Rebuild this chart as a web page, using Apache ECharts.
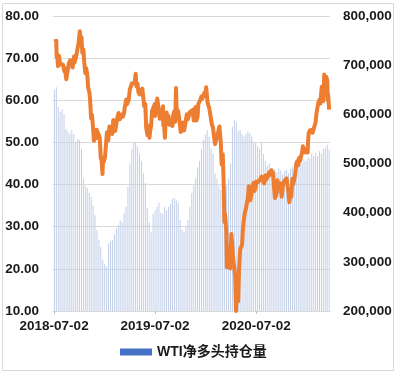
<!DOCTYPE html>
<html><head><meta charset="utf-8">
<script src="https://cdn.jsdelivr.net/npm/echarts@6/dist/echarts.min.js"></script>
<style>html,body{margin:0;padding:0;background:#fff}#c{width:400px;height:376px}</style>
</head><body><div id="c"></div>
<script>
// Weekly dates of the net-long position bars
const weekDates = [
'2018-07-03','2018-07-10','2018-07-17','2018-07-24','2018-07-31','2018-08-07','2018-08-14','2018-08-21','2018-08-28','2018-09-04',
'2018-09-11','2018-09-18','2018-09-25','2018-10-02','2018-10-09','2018-10-16','2018-10-23','2018-10-30','2018-11-06','2018-11-13',
'2018-11-20','2018-11-27','2018-12-04','2018-12-11','2018-12-18','2018-12-25',
'2019-01-01','2019-01-08','2019-01-15','2019-01-22','2019-01-29','2019-02-05','2019-02-12','2019-02-19','2019-02-26','2019-03-05',
'2019-03-12','2019-03-19','2019-03-26','2019-04-02','2019-04-09','2019-04-16','2019-04-23','2019-04-30','2019-05-07','2019-05-14',
'2019-05-21','2019-05-28','2019-06-04','2019-06-11','2019-06-18','2019-06-25','2019-07-02','2019-07-09','2019-07-16','2019-07-23',
'2019-07-30','2019-08-06','2019-08-13','2019-08-20','2019-08-27','2019-09-03','2019-09-10','2019-09-17','2019-09-24','2019-10-01',
'2019-10-08','2019-10-15','2019-10-22','2019-10-29','2019-11-05','2019-11-12','2019-11-19','2019-11-26','2019-12-03','2019-12-10',
'2019-12-17','2019-12-24','2019-12-31',
'2020-01-07','2020-01-14','2020-01-21','2020-01-28','2020-02-04','2020-02-11','2020-02-18','2020-02-25','2020-03-03','2020-03-10',
'2020-03-17','2020-03-24','2020-03-31','2020-04-07','2020-04-14','2020-04-21','2020-04-28','2020-05-05','2020-05-12','2020-05-19',
'2020-05-26','2020-06-02','2020-06-09','2020-06-16','2020-06-23','2020-06-30','2020-07-07','2020-07-14','2020-07-21','2020-07-28',
'2020-08-04','2020-08-11','2020-08-18','2020-08-25','2020-09-01','2020-09-08','2020-09-15','2020-09-22','2020-09-29','2020-10-06',
'2020-10-13','2020-10-20','2020-10-27','2020-11-03','2020-11-10','2020-11-17','2020-11-24','2020-12-01','2020-12-08','2020-12-15',
'2020-12-22','2020-12-29',
'2021-01-05','2021-01-12','2021-01-19','2021-01-26','2021-02-02','2021-02-09','2021-02-16','2021-02-23','2021-03-02','2021-03-09',
'2021-03-16','2021-03-23'
];
// WTI net long positions (contracts), right axis
const netLong = [
650000,655000,615000,605000,610000,600000,570000,565000,560000,568000,
560000,545000,550000,548000,530000,470000,455000,450000,440000,432000,
415000,395000,365000,345000,330000,305000,295000,290000,338000,342000,
344000,355000,368000,375000,385000,380000,400000,412000,452000,500000,
530000,542000,544000,534000,520000,505000,480000,460000,410000,380000,
360000,398000,405000,412000,420000,400000,398000,412000,405000,412000,
418000,428000,430000,425000,420000,385000,365000,360000,372000,385000,
412000,440000,455000,470000,492000,505000,530000,548000,560000,568000,
555000,530000,520000,480000,470000,455000,446000,450000,445000,455000,
470000,500000,575000,588000,585000,565000,568000,560000,555000,560000,
565000,562000,555000,545000,542000,535000,530000,544000,520000,505000,
495000,500000,490000,485000,488000,482000,490000,486000,478000,485000,
488000,480000,490000,492000,488000,500000,505000,510000,500000,508000,
505000,512000,510000,520000,515000,522000,515000,525000,520000,530000,532000,538000,528000
];
// WTI price dates and values, left axis
const priceDates = [
'2018-07-02','2018-07-03','2018-07-06','2018-07-10','2018-07-11','2018-07-13','2018-07-16','2018-07-20','2018-07-24','2018-07-27',
'2018-07-31','2018-08-03','2018-08-08','2018-08-10','2018-08-15','2018-08-17','2018-08-21','2018-08-24','2018-08-29','2018-08-31',
'2018-09-05','2018-09-07','2018-09-12','2018-09-14','2018-09-18','2018-09-21','2018-09-25','2018-09-28','2018-10-03','2018-10-05',
'2018-10-09','2018-10-12','2018-10-16','2018-10-19','2018-10-23','2018-10-26','2018-10-30','2018-11-02','2018-11-07','2018-11-09',
'2018-11-13','2018-11-16','2018-11-20','2018-11-23','2018-11-27','2018-11-30','2018-12-03','2018-12-07','2018-12-11','2018-12-14',
'2018-12-18','2018-12-21','2018-12-24','2018-12-26','2018-12-28',
'2019-01-02','2019-01-04','2019-01-09','2019-01-11','2019-01-14','2019-01-18','2019-01-22','2019-01-25','2019-01-28','2019-02-01',
'2019-02-05','2019-02-08','2019-02-12','2019-02-15','2019-02-20','2019-02-22','2019-02-25','2019-03-01','2019-03-05','2019-03-08',
'2019-03-12','2019-03-15','2019-03-20','2019-03-22','2019-03-25','2019-03-29','2019-04-02','2019-04-05','2019-04-09','2019-04-12',
'2019-04-16','2019-04-19','2019-04-23','2019-04-26','2019-04-30','2019-05-03','2019-05-07','2019-05-10','2019-05-14','2019-05-17',
'2019-05-21','2019-05-24','2019-05-28','2019-05-31','2019-06-05','2019-06-07','2019-06-12','2019-06-14','2019-06-18','2019-06-21',
'2019-06-25','2019-06-28','2019-07-01','2019-07-02','2019-07-05','2019-07-10','2019-07-12','2019-07-16','2019-07-19','2019-07-23',
'2019-07-26','2019-07-31','2019-08-01','2019-08-02','2019-08-07','2019-08-09','2019-08-13','2019-08-16','2019-08-20','2019-08-23',
'2019-08-27','2019-08-30','2019-09-03','2019-09-06','2019-09-10','2019-09-13','2019-09-16','2019-09-18','2019-09-20','2019-09-24',
'2019-09-27','2019-10-01','2019-10-03','2019-10-08','2019-10-11','2019-10-15','2019-10-18','2019-10-22','2019-10-25','2019-10-29',
'2019-11-01','2019-11-05','2019-11-08','2019-11-12','2019-11-15','2019-11-19','2019-11-22','2019-11-26','2019-11-29','2019-12-03',
'2019-12-06','2019-12-10','2019-12-13','2019-12-17','2019-12-20','2019-12-24','2019-12-27','2019-12-31',
'2020-01-03','2020-01-06','2020-01-08','2020-01-10','2020-01-14','2020-01-17','2020-01-21','2020-01-24','2020-01-28','2020-01-31',
'2020-02-04','2020-02-07','2020-02-11','2020-02-14','2020-02-20','2020-02-21','2020-02-25','2020-02-28','2020-03-03','2020-03-06',
'2020-03-09','2020-03-11','2020-03-13','2020-03-16','2020-03-18','2020-03-19','2020-03-20','2020-03-24','2020-03-27','2020-03-30',
'2020-04-01','2020-04-03','2020-04-06','2020-04-09','2020-04-14','2020-04-17','2020-04-20','2020-04-21','2020-04-22','2020-04-24',
'2020-04-28','2020-05-01','2020-05-05','2020-05-08','2020-05-12','2020-05-15','2020-05-19','2020-05-22','2020-05-26','2020-05-29',
'2020-06-02','2020-06-05','2020-06-08','2020-06-11','2020-06-16','2020-06-19','2020-06-23','2020-06-26','2020-06-30','2020-07-02',
'2020-07-07','2020-07-10','2020-07-14','2020-07-17','2020-07-22','2020-07-24','2020-07-28','2020-07-31','2020-08-05','2020-08-07',
'2020-08-11','2020-08-14','2020-08-18','2020-08-21','2020-08-26','2020-08-28','2020-09-01','2020-09-04','2020-09-08','2020-09-11',
'2020-09-15','2020-09-17','2020-09-21','2020-09-25','2020-09-29','2020-10-02','2020-10-06','2020-10-09','2020-10-13','2020-10-16',
'2020-10-20','2020-10-23','2020-10-28','2020-10-30','2020-11-03','2020-11-06','2020-11-10','2020-11-13','2020-11-17','2020-11-20',
'2020-11-24','2020-11-27','2020-12-01','2020-12-04','2020-12-08','2020-12-11','2020-12-15','2020-12-18','2020-12-21','2020-12-24',
'2020-12-28','2020-12-31',
'2021-01-04','2021-01-06','2021-01-08','2021-01-13','2021-01-15','2021-01-19','2021-01-22','2021-01-26','2021-01-29','2021-02-02',
'2021-02-05','2021-02-09','2021-02-12','2021-02-16','2021-02-19','2021-02-24','2021-02-26','2021-03-02','2021-03-05','2021-03-08',
'2021-03-10','2021-03-12','2021-03-16','2021-03-18','2021-03-19','2021-03-23'
];
const wtiPrice = [
73.9,74.1,73.8,74.1,70.4,71.0,68.1,70.5,68.5,68.7,
68.8,68.5,66.9,67.6,65.0,65.9,67.4,68.7,69.5,69.8,
68.7,67.8,70.4,69.0,69.9,70.8,72.3,73.3,76.4,74.3,
75.0,71.3,72.0,69.1,66.4,67.6,66.2,63.1,61.7,60.2,
55.7,56.5,53.4,50.4,51.6,50.9,53.0,52.6,51.7,51.2,
46.2,45.6,42.5,46.2,45.3,
46.5,48.0,52.4,51.6,50.5,53.8,52.6,53.7,52.0,55.3,
53.7,52.7,53.1,55.6,57.0,57.3,55.5,55.8,56.6,56.1,
56.9,58.5,60.2,59.0,58.8,60.1,62.6,63.1,64.0,63.9,
64.0,64.0,66.3,63.3,63.9,61.9,61.4,61.7,61.8,62.8,
63.0,58.6,59.1,53.5,51.7,54.0,51.1,52.5,53.9,57.4,
57.8,58.5,59.1,56.3,57.5,60.4,60.2,57.6,55.6,57.0,
56.2,58.6,54.0,55.7,51.1,54.5,57.1,54.9,56.3,54.2,
54.9,55.1,53.9,56.5,57.4,54.9,62.9,58.1,58.1,57.3,
55.9,53.6,52.5,52.6,54.7,52.8,53.8,54.2,56.7,55.5,
56.2,57.2,57.2,56.8,57.7,55.2,57.8,58.4,55.2,56.1,
59.2,59.2,60.1,60.9,60.4,61.1,61.7,61.1,
63.1,63.3,59.6,59.0,58.2,58.5,58.4,54.2,53.5,51.6,
49.6,50.3,49.9,52.1,53.8,53.4,49.9,44.8,47.2,41.3,
31.1,33.0,31.7,28.7,20.4,25.2,22.4,24.0,21.5,20.1,
20.3,28.3,26.1,22.8,20.1,18.3,10.0,10.0,13.8,16.9,
12.3,19.8,24.6,24.7,25.8,29.4,32.0,33.3,34.4,35.5,
36.8,39.6,38.2,36.3,38.4,39.8,40.4,38.5,39.3,40.7,
40.6,40.6,40.3,40.6,41.9,41.3,41.0,40.3,42.2,41.2,
41.6,42.0,42.9,42.3,43.4,43.0,42.8,39.8,36.8,37.3,
38.3,41.0,39.3,40.3,39.3,37.1,39.6,40.6,40.2,40.9,
41.5,39.9,37.4,35.8,37.7,37.1,41.4,40.1,41.4,42.4,
45.0,45.5,44.6,46.3,45.6,46.6,47.6,49.1,47.7,48.2,
47.6,48.5,
47.6,50.6,52.2,52.9,52.4,53.0,52.3,52.6,52.2,54.8,
56.9,58.4,59.5,60.1,59.2,63.2,61.5,59.8,66.1,65.1,
64.4,65.6,64.8,60.0,61.4,57.8
];
const xTickLabels = ['2018-07-02','2019-07-02','2020-07-02'];
const axisStart = '2018-06-28';
const axisEnd = '2021-03-26';
const barName = 'WTI净多头持仓量';
const lineName = 'WTI价格';

const DAY = 86400000;
function toTime(s){const p=s.split('-');return Date.UTC(+p[0],+p[1]-1,+p[2]);}
const base = toTime(xTickLabels[0]);
function toDay(s){return Math.round((toTime(s)-base)/DAY);}
function pad(n){return (n<10?'0':'')+n;}
function dayToDate(v){const d=new Date(base+Math.round(v)*DAY);return d.getUTCFullYear()+'-'+pad(d.getUTCMonth()+1)+'-'+pad(d.getUTCDate());}
function fmtThousands(v){return String(v).replace(/\B(?=(\d{3})+(?!\d))/g, ',');}

const barData = weekDates.map((d,i)=>[toDay(d), netLong[i]]);
const lineData = priceDates.map((d,i)=>[toDay(d), wtiPrice[i]]);
const tickVals = xTickLabels.map(toDay);

const FONT = '"Liberation Sans", Arial, sans-serif';
const lbl = {color:'#1a1a1a', fontSize:13.5, fontWeight:'bold', fontFamily:FONT};

const chart = echarts.init(document.getElementById('c'), null, {renderer:'canvas'});
chart.setOption({
  animation:false,
  backgroundColor:'#ffffff',
  grid:{left:53, right:70, top:16, bottom:65, containLabel:false},
  legend:{
    data:[{name:barName, icon:'rect', itemStyle:{color:'#4472C4'}}],
    left:120, top:345, padding:0, itemWidth:32, itemHeight:7,
    textStyle:{color:'#1a1a1a', fontSize:14, fontWeight:'bold', fontFamily:'"Liberation Sans", "Noto Sans CJK SC", sans-serif'}
  },
  xAxis:{
    type:'value',
    min:toDay(axisStart), max:toDay(axisEnd),
    splitLine:{show:false},
    axisLine:{show:true, onZero:false, lineStyle:{color:'#d9d9d9', width:1}},
    axisTick:{show:true, customValues:tickVals, length:3, lineStyle:{color:'#bfbfbf'}},
    axisLabel:Object.assign({customValues:tickVals, margin:8, formatter:(v)=>dayToDate(v)}, lbl)
  },
  yAxis:[
    {type:'value', min:10, max:80, interval:10, position:'left',
     axisLine:{show:false}, axisTick:{show:false},
     splitLine:{show:true, lineStyle:{color:'#d9d9d9', width:1}},
     axisLabel:Object.assign({margin:14, formatter:(v)=>v.toFixed(2)}, lbl)},
    {type:'value', min:200000, max:800000, interval:100000, position:'right',
     axisLine:{show:false}, axisTick:{show:false}, splitLine:{show:false},
     axisLabel:Object.assign({margin:13, formatter:(v)=>fmtThousands(v)}, lbl)}
  ],
  graphic:[{type:'rect', silent:true, shape:{x:2.5, y:3.5, width:391, height:367},
            style:{fill:'none', stroke:'#d9d9d9', lineWidth:1}}],
  series:[
    {type:'bar', name:barName, yAxisIndex:1, data:barData, barWidth:1,
     itemStyle:{color:'#c3cfe8'}, silent:true, z:1},
    {type:'line', name:lineName, yAxisIndex:0, data:lineData, showSymbol:false, symbol:'none',
     lineStyle:{color:'#ED7D31', width:4, join:'round'}, itemStyle:{color:'#ED7D31'}, z:3}
  ]
});
</script>
</body></html>
